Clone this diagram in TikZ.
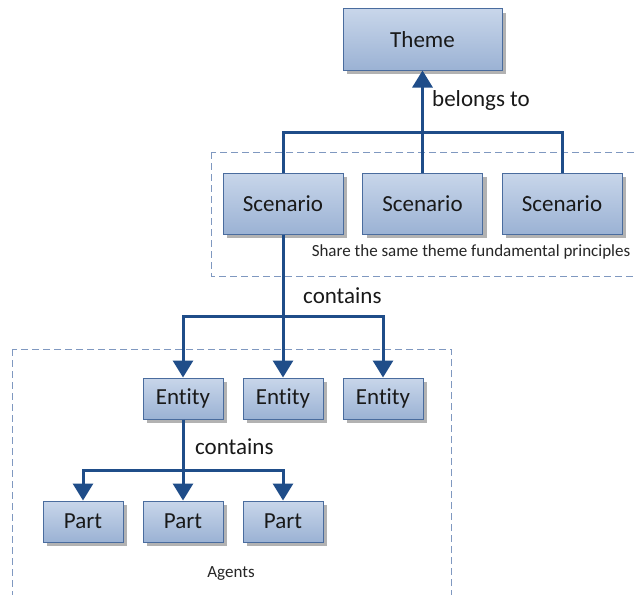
\documentclass[tikz,border=0pt]{standalone}
\usepackage{fontspec}
\setmainfont{Carlito}[RawFeature=-liga]
\usetikzlibrary{arrows.meta,shadows}
\definecolor{boxtop}{HTML}{C8D6EA}
\definecolor{boxbot}{HTML}{9BB2D4}
\definecolor{boxedge}{HTML}{4A6C9E}
\definecolor{linkblue}{HTML}{1F4D89}
\definecolor{groupline}{HTML}{7F98C0}
\tikzset{
  x=1pt,y=-1pt,
  block/.style={draw=boxedge,line width=1pt,top color=boxtop,bottom color=boxbot,
    drop shadow={shadow xshift=4pt,shadow yshift=-4pt,fill=black,opacity=0.3},
    font=\fontsize{23}{26}\selectfont,text=black!90,inner sep=0pt},
  bigbox/.style={block,minimum width=120pt,minimum height=61pt},
  smallbox/.style={block,minimum width=80pt,minimum height=41pt},
  link/.style={draw=linkblue,line width=3pt},
  linkarrow/.style={link,-{Triangle[width=20pt,length=17pt]}},
  group/.style={draw=groupline,line width=1pt,dash pattern=on 7pt off 4pt},
  note/.style={font=\fontsize{17}{20}\selectfont,text=black!85},
  verb/.style={font=\fontsize{23}{26}\selectfont,text=black!90,anchor=west,inner sep=1pt}
}
\begin{document}
\begin{tikzpicture}
\useasboundingbox (0,0) rectangle (636,594);
\fill[white] (0,0) rectangle (636,594);

% grouping frames
\draw[group] (211,152) rectangle (645,276);
\draw[group] (12,349) rectangle (451,600);

% boxes
\node[block,minimum width=159pt,minimum height=61pt] (theme) at (422.5,39.5) {Theme};
\node[bigbox] (s1) at (283,203.5) {Scenario};
\node[bigbox] (s2) at (422.5,203.5) {Scenario};
\node[bigbox] (s3) at (562,203.5) {Scenario};
\node[smallbox] (e1) at (183,398.5) {Entity};
\node[smallbox] (e2) at (283,398.5) {Entity};
\node[smallbox] (e3) at (383,398.5) {Entity};
\node[smallbox] (p1) at (83,521.5) {Part};
\node[smallbox] (p2) at (183,521.5) {Part};
\node[smallbox] (p3) at (283,521.5) {Part};

% junction points of the bus lines
\coordinate (j1) at (422.5,132);
\coordinate (j2) at (283,316);
\coordinate (j3) at (183,470);

% scenarios belong to the theme
\draw[link] (s1.north) |- (j1) -| (s3.north);
\draw[link] (s2.north) -- (j1);
\draw[linkarrow] (j1) -- (theme.south);

% a scenario contains entities
\draw[link] (s1.south) -- (j2);
\draw[linkarrow] (j2) -| (e1.north);
\draw[linkarrow] (j2) -| (e3.north);
\draw[linkarrow] (j2) -- (e2.north);

% an entity contains parts
\draw[link] (e1.south) -- (j3);
\draw[linkarrow] (j3) -| (p1.north);
\draw[linkarrow] (j3) -| (p3.north);
\draw[linkarrow] (j3) -- (p2.north);

% labels
\node[verb] (lb1) at (431,100) {belongs to};
\node[verb] (lb2) at (302,296) {contains};
\node[verb] (lb3) at (194,447) {contains};
\node[note] (n1) at (471,252) {Share the same theme fundamental principles};
\node[note] (n2) at (231,573) {Agents};
\end{tikzpicture}
\end{document}
